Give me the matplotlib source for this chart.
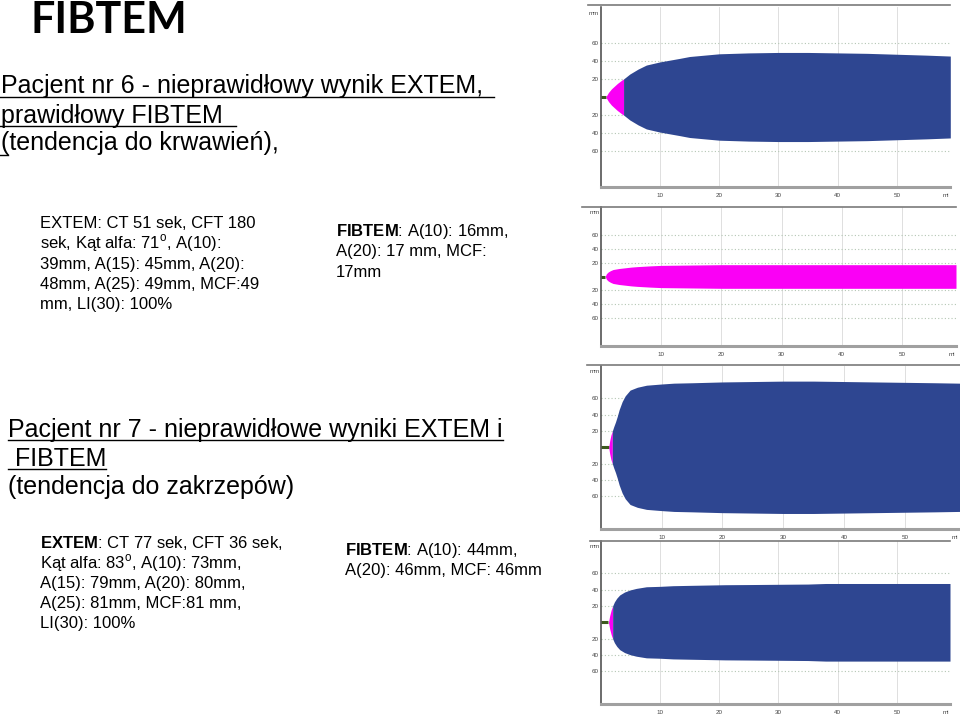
import matplotlib.pyplot as plt
from matplotlib.lines import Line2D

plt.rcParams['font.family'] = ['Liberation Sans', 'DejaVu Sans']
plt.rcParams['mathtext.fontset'] = 'custom'
plt.rcParams['mathtext.rm'] = 'Liberation Sans'
plt.rcParams['mathtext.bf'] = 'Liberation Sans:bold'

W, H = 960, 714

# --- traces (time in min, amplitude in mm) ---
# pacjent 6, EXTEM (CT 51 s, CFT 180 s)
ext6_time = [0.85, 1.3, 1.8, 2.3, 2.8, 3.2, 3.6, 3.85, 4.9, 6.3, 7.7, 10, 13.4, 15, 20, 25,
             30, 35, 40, 45, 50, 55, 59]
ext6_amp = [0, 5, 9, 12, 15, 17, 19, 20, 25.5, 31, 35.5, 39, 43, 45, 48, 49,
            49.5, 49.5, 49, 48.5, 47.5, 46.5, 45.5]
ext6_ct = 0.85
ext6_t20 = 3.85

# pacjent 6, FIBTEM
fib6_time = [0.7, 0.9, 1.2, 1.6, 2.0, 3, 4, 5, 6, 8, 10, 15, 20, 25, 30, 40, 50, 59]
fib6_amp = [0, 4, 6.5, 8.5, 10, 11.5, 12.5, 13.5, 14.2, 15.2, 16, 16.5, 17, 17, 17, 17, 17, 17]
fib6_ct = 0.7
fib6_t20 = None

# pacjent 7, EXTEM (CT 77 s, CFT 36 s)
ext7_time = [1.28, 1.45, 1.65, 1.88, 2.1, 2.4, 2.7, 3.0, 3.5, 4.0, 4.8, 6, 7.5, 10, 12, 15,
             20, 25, 30, 35, 40, 45, 50, 55, 59]
ext7_amp = [0, 8, 15, 20, 25, 31, 38, 46, 56, 63, 70, 73.5, 76, 77.5, 78.5, 79,
            80, 80.5, 81, 81, 80.5, 80, 79.5, 79, 78.5]
ext7_ct = 1.28
ext7_t20 = 1.88

# pacjent 7, FIBTEM
fib7_time = [1.3, 1.5, 1.75, 2.0, 2.3, 2.7, 3.2, 4.0, 4.9, 6, 7.7, 10, 12.2, 15, 21, 25,
             30, 35, 38, 45, 50, 55, 59]
fib7_amp = [0, 8, 15, 20, 25, 29.5, 33.5, 37, 39.5, 41.5, 43.5, 44, 44.8, 45.2, 46, 46.2,
            46.5, 46.8, 47.5, 47.5, 47.5, 47.5, 47.5]
fib7_ct = 1.3
fib7_t20 = 2.0

xtick_vals = [10, 20, 30, 40, 50, 58.3]
xtick_text = ['10', '20', '30', '40', '50', 'mi']
ytick_vals = [-60, -40, -20, 20, 40, 60]
ytick_text = ['60', '40', '20', '20', '40', '60']

# --- slide texts ---
p6_head = ['Pacjent nr 6 - nieprawidłowy wynik EXTEM, ', 'prawidłowy FIBTEM ',
           '(tendencja do krwawień),']
p6_extem = ['EXTEM: CT 51 sek, CFT 180', r'sek, Kąt alfa: 71$^\mathrm{o}$, A(10):',
            '39mm, A(15): 45mm, A(20):', '48mm, A(25): 49mm, MCF:49', 'mm, LI(30): 100%']
p6_fibtem = [r'$\mathbf{FIBTEM}$: A(10): 16mm,', 'A(20): 17 mm, MCF:', '17mm']
p7_head = ['Pacjent nr 7 - nieprawidłowe wyniki EXTEM i', ' FIBTEM', '(tendencja do zakrzepów)']
p7_extem = [r'$\mathbf{EXTEM}$: CT 77 sek, CFT 36 sek,', r'Kąt alfa: 83$^\mathrm{o}$, A(10): 73mm,',
            'A(15): 79mm, A(20): 80mm,', 'A(25): 81mm, MCF:81 mm,', 'LI(30): 100%']
p7_fibtem = [r'$\mathbf{FIBTEM}$: A(10): 44mm,', 'A(20): 46mm, MCF: 46mm']

BLUE = '#2e4691'
PINK = '#fa00f5'
GREEN = '#3d5a1e'

fig = plt.figure(figsize=(W / 100, H / 100), dpi=100)


def put(x, y, s, size, **kw):
    return fig.text(x / W, 1 - y / H, s, fontsize=size, va='baseline', ha='left', **kw)


def hline(x0, x1, y, **kw):
    fig.add_artist(Line2D([x0 / W, x1 / W], [1 - y / H, 1 - y / H], **kw))


# panels: (left, right, top, bottom) in pixels, frame line start
panels = [
    ((600.75, 950.3, 7, 187), 588, 5, ext6_time, ext6_amp, ext6_ct, ext6_t20),
    ((601, 956, 207, 346), 582, 206.5, fib6_time, fib6_amp, fib6_ct, fib6_t20),
    ((600.9, 959.6, 365.6, 529), 587, 365, ext7_time, ext7_amp, ext7_ct, ext7_t20),
    ((600.8, 950, 540.6, 704), 590, 540.5, fib7_time, fib7_amp, fib7_ct, fib7_t20),
]

for (l, r, t, b), fx0, fy0, tt, aa, ct, t20 in panels:
    ax = fig.add_axes([l / W, 1 - b / H, (r - l) / W, (b - t) / H])
    ax.set_xlim(0, 59)
    ax.set_ylim(-100, 100)
    for v in [10, 20, 30, 40, 50]:
        ax.axvline(v, color='#d9d9d9', lw=0.6, zorder=0)
    for v in ytick_vals:
        ax.axhline(v, color='#b4c6b4', lw=0.8, ls=(0, (1, 2)), zorder=0)
    ax.plot([0, ct], [0, 0], color=GREEN, lw=2.2, zorder=2, solid_capstyle='butt')
    if t20 is None:
        ax.fill_between(tt, [-a for a in aa], aa, color=PINK, lw=0, zorder=3)
    else:
        pt = [x for x in tt if x <= t20]
        pa = aa[:len(pt)]
        bt = [x for x in tt if x >= t20]
        ba = aa[len(tt) - len(bt):]
        ax.fill_between(pt, [-a for a in pa], pa, color=PINK, lw=0, zorder=3)
        ax.fill_between(bt, [-a for a in ba], ba, color=BLUE, lw=0, zorder=3)
    ax.set_xticks(xtick_vals, labels=xtick_text)
    ax.set_yticks(ytick_vals, labels=ytick_text)
    ax.tick_params(length=0, labelsize=4.5, labelcolor='#444444')
    ax.tick_params(axis='x', pad=4)
    ax.tick_params(axis='y', pad=1.5)
    ax.text(-0.004, 0.963, 'mm', transform=ax.transAxes, ha='right', va='center',
            fontsize=4.5, color='#444444')
    ax.spines['left'].set_color('#444444')
    ax.spines['left'].set_linewidth(1.1)
    ax.spines['bottom'].set_color('#a0a0a0')
    ax.spines['bottom'].set_linewidth(2.2)
    ax.spines['top'].set_visible(False)
    ax.spines['right'].set_visible(False)
    hline(fx0, r, fy0, color='#7a7a7a', lw=1.2)

# title
put(31, 33, 'FIBTEM', 31, family='Lato', fontweight='bold')

# patient 6
t61 = put(1, 93, p6_head[0], 18)
t62 = put(1, 123, p6_head[1], 18)
put(1, 150, p6_head[2], 18)
for i, s in enumerate(p6_extem):
    put(40, 227.7 + i * 20.4, s, 12)
for i, s in enumerate(p6_fibtem):
    put(336, 236 + i * 20.3, s, 12)

# patient 7
t71 = put(8, 436.7, p7_head[0], 18)
t72 = put(8, 466, p7_head[1], 18)
put(8, 494, p7_head[2], 18)
for i, s in enumerate(p7_extem):
    put(40, 548 + i * 20, s, 12)
for i, s in enumerate(p7_fibtem):
    put(345, 555 + i * 20, s, 12)

# underlines
fig.canvas.draw()
ren = fig.canvas.get_renderer()
for txt, x0, extra, y in [(t61, 0, 4, 96.5), (t62, 0, 6, 126), (t71, 8, 0, 439.5), (t72, 8, 0, 469)]:
    bb = txt.get_window_extent(renderer=ren)
    hline(x0, bb.x1 + extra, y, color='black', lw=1.0)
hline(0, 8, 155, color='black', lw=1.0)

fig.savefig('out.png', dpi=100)
